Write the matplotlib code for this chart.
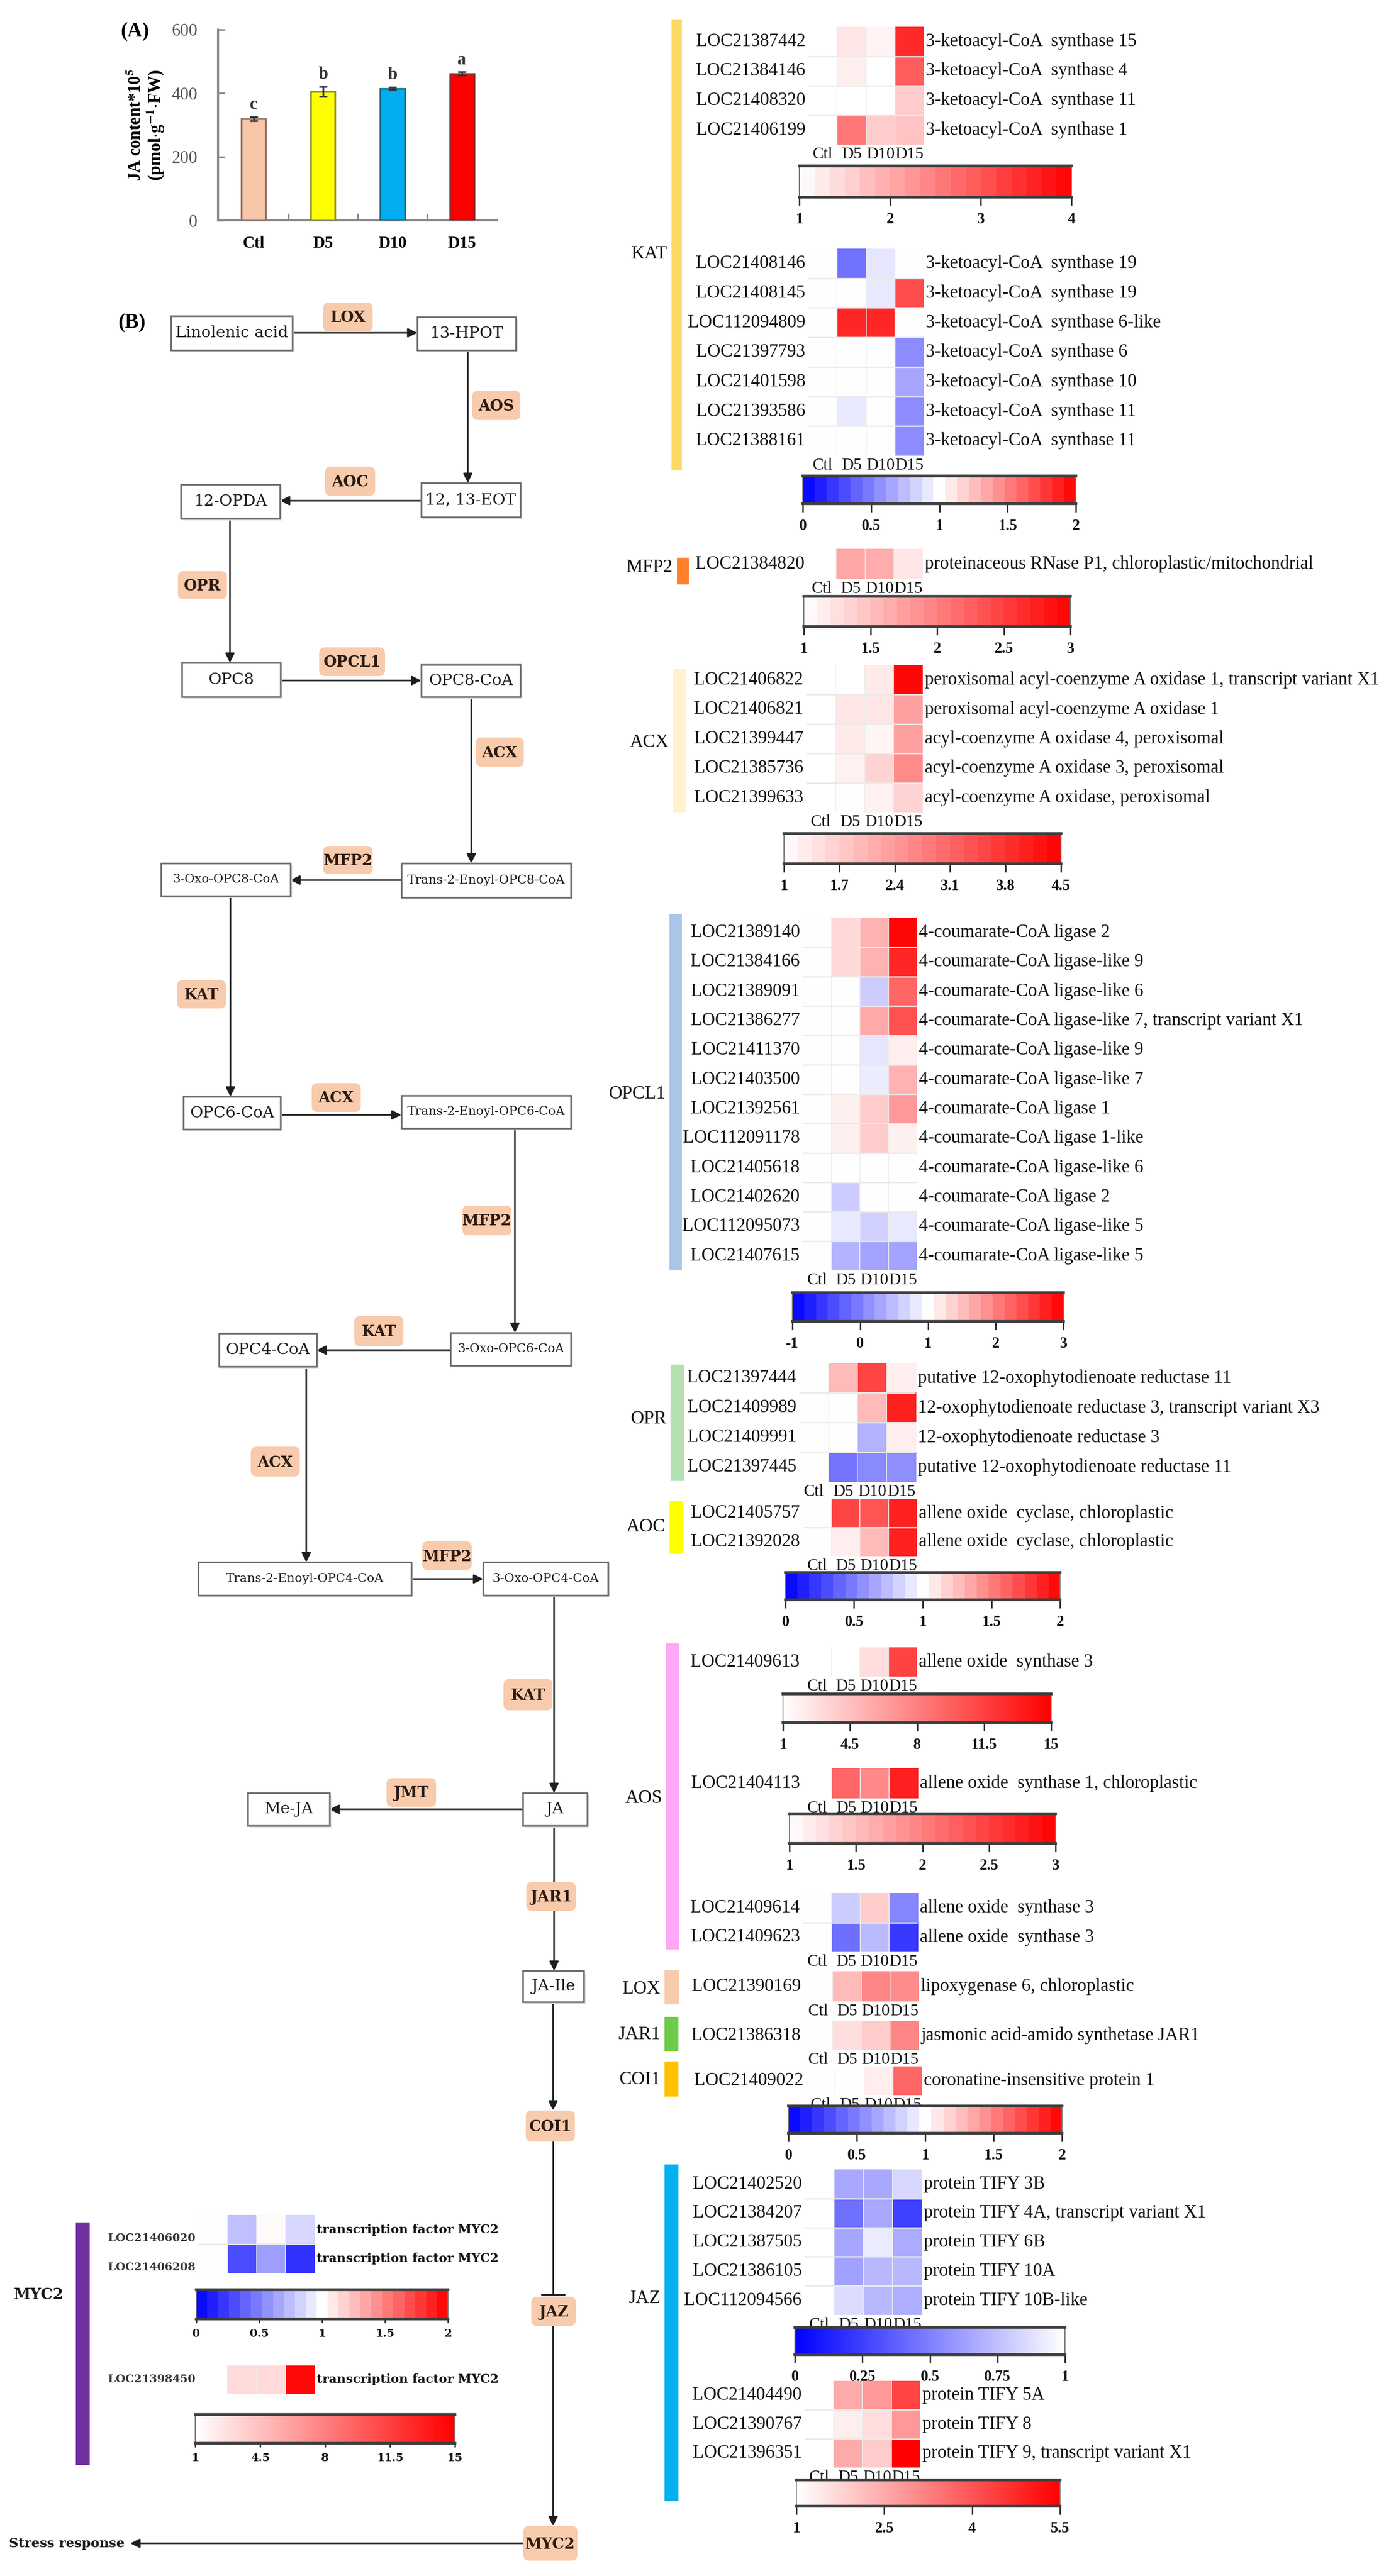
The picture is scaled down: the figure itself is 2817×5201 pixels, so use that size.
import numpy as np
import matplotlib
matplotlib.use("Agg")
import matplotlib.pyplot as plt
from matplotlib.colors import LinearSegmentedColormap, Normalize
from matplotlib.patches import Rectangle, FancyBboxPatch

plt.rcParams['mathtext.fontset'] = 'stix'

# ======================= DATA =======================
bar_groups = ["Ctl", "D5", "D10", "D15"]
ja_content = [320, 405, 415, 462]
ja_err = [6, 16, 4, 5]
ja_letters = ["c", "b", "b", "a"]
bar_colors = ["#F8C6A8", "#FFFF00", "#00AEEF", "#FF0000"]
bar_edges = ["#8A6A5A", "#8A8A30", "#1A6A8A", "#8A2A2A"]

columns = ["Ctl", "D5", "D10", "D15"]

kat1_ids = ["LOC21387442", "LOC21384146", "LOC21408320", "LOC21406199"]
kat1_desc = ["3-ketoacyl-CoA  synthase 15", "3-ketoacyl-CoA  synthase 4",
             "3-ketoacyl-CoA  synthase 11", "3-ketoacyl-CoA  synthase 1"]
kat1_vals = [[1, 1.3, 1.15, 3.5], [1, 1.2, 1.0, 2.9], [1, 1.0, 1.0, 1.6], [1, 2.6, 1.6, 1.7]]

kat2_ids = ["LOC21408146", "LOC21408145", "LOC112094809", "LOC21397793",
            "LOC21401598", "LOC21393586", "LOC21388161"]
kat2_desc = ["3-ketoacyl-CoA  synthase 19", "3-ketoacyl-CoA  synthase 19",
             "3-ketoacyl-CoA  synthase 6-like", "3-ketoacyl-CoA  synthase 6",
             "3-ketoacyl-CoA  synthase 10", "3-ketoacyl-CoA  synthase 11",
             "3-ketoacyl-CoA  synthase 11"]
kat2_vals = [[1, 0.45, 0.9, 1.0], [1, 1.0, 0.92, 1.7], [1, 1.85, 1.85, 1.0],
             [1, 1.0, 1.0, 0.55], [1, 1.0, 1.0, 0.65], [1, 0.92, 1.0, 0.55],
             [1, 1.0, 1.0, 0.55]]

mfp2_ids = ["LOC21384820"]
mfp2_desc = ["proteinaceous RNase P1, chloroplastic/mitochondrial"]
mfp2_vals = [[1, 1.7, 1.65, 1.2]]

acx_ids = ["LOC21406822", "LOC21406821", "LOC21399447", "LOC21385736", "LOC21399633"]
acx_desc = ["peroxisomal acyl-coenzyme A oxidase 1, transcript variant X1",
            "peroxisomal acyl-coenzyme A oxidase 1",
            "acyl-coenzyme A oxidase 4, peroxisomal",
            "acyl-coenzyme A oxidase 3, peroxisomal",
            "acyl-coenzyme A oxidase, peroxisomal"]
acx_vals = [[1, 1.0, 1.3, 4.4], [1, 1.35, 1.35, 2.3], [1, 1.3, 1.15, 2.3],
            [1, 1.2, 1.6, 2.6], [1, 1.05, 1.2, 1.6]]

opcl1_ids = ["LOC21389140", "LOC21384166", "LOC21389091", "LOC21386277", "LOC21411370",
             "LOC21403500", "LOC21392561", "LOC112091178", "LOC21405618", "LOC21402620",
             "LOC112095073", "LOC21407615"]
opcl1_desc = ["4-coumarate-CoA ligase 2", "4-coumarate-CoA ligase-like 9",
              "4-coumarate-CoA ligase-like 6", "4-coumarate-CoA ligase-like 7, transcript variant X1",
              "4-coumarate-CoA ligase-like 9", "4-coumarate-CoA ligase-like 7",
              "4-coumarate-CoA ligase 1", "4-coumarate-CoA ligase 1-like",
              "4-coumarate-CoA ligase-like 6", "4-coumarate-CoA ligase 2",
              "4-coumarate-CoA ligase-like 5", "4-coumarate-CoA ligase-like 5"]
opcl1_vals = [[1, 1.3, 1.6, 2.95], [1, 1.3, 1.6, 2.7], [1, 1.0, 0.6, 2.2], [1, 1.0, 1.67, 2.35],
              [1, 1.0, 0.8, 1.13], [1, 1.0, 0.85, 1.6], [1, 1.12, 1.4, 1.8], [1, 1.12, 1.4, 1.12],
              [1, 1.0, 1.0, 1.0], [1, 0.6, 1.0, 1.0], [1, 0.82, 0.63, 0.82], [1, 0.42, 0.28, 0.28]]

opr_ids = ["LOC21397444", "LOC21409989", "LOC21409991", "LOC21397445"]
opr_desc = ["putative 12-oxophytodienoate reductase 11",
            "12-oxophytodienoate reductase 3, transcript variant X3",
            "12-oxophytodienoate reductase 3",
            "putative 12-oxophytodienoate reductase 11"]
opr_vals = [[1, 1.27, 1.73, 1.07], [1, 1.0, 1.27, 1.87], [1, 1.0, 0.7, 1.07], [1, 0.46, 0.54, 0.56]]

aoc_ids = ["LOC21405757", "LOC21392028"]
aoc_desc = ["allene oxide  cyclase, chloroplastic", "allene oxide  cyclase, chloroplastic"]
aoc_vals = [[1, 1.73, 1.67, 1.87], [1, 1.07, 1.27, 1.87]]

aos1_ids = ["LOC21409613"]
aos1_desc = ["allene oxide  synthase 3"]
aos1_vals = [[1, 1.0, 2.9, 11.3]]

aos2_ids = ["LOC21404113"]
aos2_desc = ["allene oxide  synthase 1, chloroplastic"]
aos2_vals = [[1, 2.2, 1.93, 2.73]]

aos3_ids = ["LOC21409614", "LOC21409623"]
aos3_desc = ["allene oxide  synthase 3", "allene oxide  synthase 3"]
aos3_vals = [[1, 0.8, 1.2, 0.53], [1, 0.43, 0.73, 0.22]]

lox_ids = ["LOC21390169"]
lox_desc = ["lipoxygenase 6, chloroplastic"]
lox_vals = [[1, 1.27, 1.47, 1.45]]

jar1_ids = ["LOC21386318"]
jar1_desc = ["jasmonic acid-amido synthetase JAR1"]
jar1_vals = [[1, 1.13, 1.2, 1.47]]

coi1_ids = ["LOC21409022"]
coi1_desc = ["coronatine-insensitive protein 1"]
coi1_vals = [[1, 1.0, 1.07, 1.6]]

jaz1_ids = ["LOC21402520", "LOC21384207", "LOC21387505", "LOC21386105", "LOC112094566"]
jaz1_desc = ["protein TIFY 3B", "protein TIFY 4A, transcript variant X1", "protein TIFY 6B",
             "protein TIFY 10A", "protein TIFY 10B-like"]
jaz1_vals = [[1, 0.66, 0.66, 0.84], [1, 0.44, 0.66, 0.25], [1, 0.65, 0.92, 0.67],
             [1, 0.63, 0.72, 0.72], [1, 0.86, 0.72, 0.68]]

jaz2_ids = ["LOC21404490", "LOC21390767", "LOC21396351"]
jaz2_desc = ["protein TIFY 5A", "protein TIFY 8", "protein TIFY 9, transcript variant X1"]
jaz2_vals = [[1, 2.5, 2.8, 4.3], [1, 1.3, 1.6, 2.8], [1, 2.5, 1.9, 5.5]]

myc1_ids = ["LOC21406020", "LOC21406208"]
myc1_desc = ["transcription factor MYC2", "transcription factor MYC2"]
myc1_vals = [[1, 0.75, 1.02, 0.84], [1, 0.3, 0.62, 0.2]]

myc2_ids = ["LOC21398450"]
myc2_desc = ["transcription factor MYC2"]
myc2_vals = [[1, 3.0, 3.0, 14.5]]

# ======================= FIGURE =======================
W, H = 2817, 5201
fig = plt.figure(figsize=(W / 100, H / 100), dpi=100)
fig.patch.set_facecolor('white')
bg = fig.add_axes([0, 0, 1, 1])
bg.set_xlim(0, W)
bg.set_ylim(H, 0)
bg.axis('off')

SERIF = ['Liberation Serif', 'DejaVu Serif']
PW = ['DejaVu Serif']

red_cmap = LinearSegmentedColormap.from_list('wr', ['#FFFFFF', '#FF0000'])
div_cmap = LinearSegmentedColormap.from_list('bwr2', ['#0000FF', '#FFFFFF', '#FF0000'])
blue_cmap = LinearSegmentedColormap.from_list('bw', ['#0000FF', '#FFFFFF'])


def px_axes(x0, y0, x1, y1):
    return fig.add_axes([x0 / W, 1 - y1 / H, (x1 - x0) / W, (y1 - y0) / H])


def draw_heatmap(box, vals, ids, descs, cmap, vmin, vmax, show_cols=True,
                 font=SERIF, id_size=26.5, desc_size=26.5, weight='normal', id_shift=0.0,
                 id_color='#111111'):
    x0, y0, x1, y1 = box
    n = len(ids)
    ax = px_axes(x0, y0, x1, y1)
    ax.imshow(np.array(vals, float), cmap=cmap, norm=Normalize(vmin, vmax), aspect='auto',
              interpolation='nearest', extent=(-0.5, 3.5, n - 0.5, -0.5))
    ax.set_xlim(-0.5, 3.5)
    ax.set_ylim(n - 0.5, -0.5)
    for k in range(1, 4):
        ax.axvline(k - 0.5, color='#EEEEEE', lw=1.2)
    for k in range(1, n):
        ax.axhline(k - 0.5, color='#EAEAEA', lw=2.0)
    ax.set_xticks([])
    ax.set_yticks([])
    for s in ax.spines.values():
        s.set_visible(False)
    cw = (x1 - x0) / 4.0
    rh = (y1 - y0) / n
    for i, (lid, d) in enumerate(zip(ids, descs)):
        ax.text(-0.5 - 6 / cw, i + id_shift, lid, ha='right', va='center', fontsize=id_size,
                family=font, weight=weight, color=id_color, clip_on=False)
        ax.text(3.5 + 4 / cw, i, d, ha='left', va='center', fontsize=desc_size,
                family=font, weight=weight, color='#111111', clip_on=False)
    if show_cols:
        for j, c in enumerate(columns):
            ax.text(j, n - 0.5 + 20 / rh, c, ha='center', va='center', fontsize=24,
                    family=SERIF, color='#111111', clip_on=False)
    return ax


def draw_cbar(box, cmap, vmin, vmax, ticks, labels, steps=None, font=SERIF, size=22,
              weight='bold', tlen=12, pad=10):
    ax = px_axes(*box)
    if steps:
        g = vmin + (np.arange(steps) + 0.5) * (vmax - vmin) / steps
    else:
        g = np.linspace(vmin, vmax, 600)
    ax.imshow(g[None, :], cmap=cmap, norm=Normalize(vmin, vmax), aspect='auto',
              extent=(vmin, vmax, 0, 1), interpolation='nearest')
    ax.set_xlim(vmin, vmax)
    ax.set_ylim(0, 1)
    ax.set_yticks([])
    ax.set_xticks(ticks)
    ax.set_xticklabels(labels, fontfamily=font, fontsize=size, fontweight=weight, color='#111111')
    ax.tick_params(axis='x', direction='out', length=tlen, width=2.2, color='#333333', pad=pad)
    for side in ['top', 'bottom']:
        ax.spines[side].set_linewidth(4)
        ax.spines[side].set_color('#3D3D3D')
    for side in ['left', 'right']:
        ax.spines[side].set_linewidth(1.5)
        ax.spines[side].set_color('#777777')
    return ax


# ---------------- (A) bar chart ----------------
axb = px_axes(440, 60, 1003, 445)
xb = np.arange(len(bar_groups))
axb.bar(xb, ja_content, width=0.35, color=bar_colors, edgecolor=bar_edges, linewidth=2.5,
        yerr=ja_err, capsize=6, error_kw=dict(ecolor='#333333', elinewidth=2.5, capthick=2.5),
        zorder=3)
axb.set_xlim(-0.514, 3.507)
axb.set_ylim(0, 600)
axb.set_yticks([0, 200, 400, 600])
axb.set_yticklabels(['0', '200', '400', '600'], fontsize=25, color='#555555', family=SERIF)
axb.tick_params(axis='y', direction='in', length=10, width=2.5, color='#888888', pad=30)
axb.set_xticks(xb)
axb.set_xticklabels(bar_groups, fontsize=24, fontweight='bold', family=SERIF)
axb.tick_params(axis='x', which='major', length=0, pad=22)
axb.set_xticks([0.5, 1.5, 2.5], minor=True)
axb.tick_params(axis='x', which='minor', direction='in', length=10, width=2.5, color='#888888')
for s in ['top', 'right']:
    axb.spines[s].set_visible(False)
for s in ['left', 'bottom']:
    axb.spines[s].set_color('#888888')
    axb.spines[s].set_linewidth(3)
for i, (v, e, l) in enumerate(zip(ja_content, ja_err, ja_letters)):
    axb.text(i, v + e + 12, l, ha='center', va='bottom', fontsize=25, fontweight='bold',
             family=SERIF, color='#333333')
axb.set_ylabel("JA content*10$^{\\mathbf{5}}$\n(pmol$\\cdot$g$^{\\mathbf{-1}}$$\\cdot$FW)",
               fontsize=25, fontweight='bold', family=SERIF, labelpad=8, linespacing=1.05)

bg.text(272, 64, "(A)", fontsize=30, fontweight='bold', family=SERIF, ha='center', va='center')
bg.text(266, 652, "(B)", fontsize=30, fontweight='bold', family=SERIF, ha='center', va='center')

# ---------------- pathway diagram ----------------
def node(x0, y0, x1, y1, text, size=23):
    bg.add_patch(Rectangle((x0 + 4, y0 + 4), x1 - x0, y1 - y0, facecolor='#E6E6E6',
                           edgecolor='none', zorder=2.5))
    bg.add_patch(Rectangle((x0, y0), x1 - x0, y1 - y0, facecolor='white', edgecolor='#6E6E6E',
                           lw=2.5, zorder=3))
    bg.text((x0 + x1) / 2, (y0 + y1) / 2, text, ha='center', va='center', fontsize=size,
            family=PW, color='#1A1A1A', zorder=4)


def enzyme(x0, y0, x1, y1, text, size=22):
    bg.add_patch(FancyBboxPatch((x0, y0), x1 - x0, y1 - y0,
                                boxstyle='round,pad=0,rounding_size=12',
                                facecolor='#F8CBAD', edgecolor='none', zorder=5))
    bg.text((x0 + x1) / 2, (y0 + y1) / 2 + 2, text, ha='center', va='center', fontsize=size,
            family=PW, fontweight='bold', color='#2B1B12', zorder=6)


def arrow(x0, y0, x1, y1):
    bg.annotate('', xy=(x1, y1), xytext=(x0, y0),
                arrowprops=dict(arrowstyle='-|>', color='#1E1E1E', lw=2.3, mutation_scale=28,
                                shrinkA=0, shrinkB=0), zorder=2)


node(345, 638, 590, 707, "Linolenic acid")
node(842, 640, 1041, 707, "13-HPOT")
node(850, 975, 1050, 1044, "12, 13-EOT")
node(365, 978, 565, 1047, "12-OPDA")
node(367, 1338, 566, 1407, "OPC8")
node(850, 1342, 1050, 1407, "OPC8-CoA")
node(325, 1743, 586, 1809, "3-Oxo-OPC8-CoA", 18)
node(810, 1743, 1152, 1812, "Trans-2-Enoyl-OPC8-CoA", 18)
node(370, 2214, 566, 2280, "OPC6-CoA")
node(810, 2212, 1152, 2278, "Trans-2-Enoyl-OPC6-CoA", 18)
node(909, 2691, 1152, 2757, "3-Oxo-OPC6-CoA", 18)
node(442, 2692, 639, 2759, "OPC4-CoA")
node(400, 3154, 830, 3221, "Trans-2-Enoyl-OPC4-CoA", 18)
node(975, 3154, 1227, 3221, "3-Oxo-OPC4-CoA", 18)
node(500, 3620, 665, 3686, "Me-JA")
node(1055, 3620, 1185, 3686, "JA")
node(1055, 3979, 1178, 4042, "JA-Ile")

arrow(590, 672, 842, 672)
arrow(944, 707, 944, 975)
arrow(850, 1011, 565, 1011)
arrow(464, 1047, 464, 1338)
arrow(566, 1374, 850, 1374)
arrow(951, 1407, 951, 1743)
arrow(810, 1777, 586, 1777)
arrow(465, 1809, 465, 2214)
arrow(566, 2251, 810, 2251)
arrow(1039, 2278, 1039, 2691)
arrow(909, 2726, 639, 2726)
arrow(618, 2759, 618, 3154)
arrow(830, 3188, 975, 3188)
arrow(1118, 3221, 1118, 3620)
arrow(1055, 3653, 665, 3653)
arrow(1118, 3686, 1118, 3979)
arrow(1116, 4042, 1116, 4261)
bg.plot([1116, 1116], [4324, 4633], color='#1E1E1E', lw=2.3, zorder=2)
bg.plot([1094, 1138], [4633, 4633], color='#1E1E1E', lw=3.5, zorder=2)
arrow(1116, 4696, 1116, 5100)
arrow(1056, 5135, 263, 5135)

enzyme(652, 611, 752, 669, "LOX")
enzyme(953, 789, 1050, 848, "AOS")
enzyme(656, 942, 757, 1001, "AOC")
enzyme(359, 1153, 458, 1210, "OPR")
enzyme(644, 1307, 777, 1365, "OPCL1")
enzyme(960, 1489, 1057, 1548, "ACX")
enzyme(652, 1708, 752, 1765, "MFP2")
enzyme(357, 1979, 456, 2036, "KAT")
enzyme(629, 2187, 728, 2245, "ACX")
enzyme(933, 2434, 1032, 2494, "MFP2")
enzyme(715, 2657, 814, 2718, "KAT")
enzyme(506, 2921, 605, 2981, "ACX")
enzyme(852, 3112, 952, 3170, "MFP2")
enzyme(1016, 3390, 1115, 3453, "KAT")
enzyme(780, 3590, 880, 3648, "JMT")
enzyme(1062, 3800, 1162, 3858, "JAR1")
enzyme(1061, 4261, 1160, 4324, "COI1")
enzyme(1072, 4637, 1162, 4696, "JAZ")
enzyme(1056, 5100, 1165, 5170, "MYC2")

bg.text(18, 5135, "Stress response", ha='left', va='center', fontsize=19, family=PW,
        fontweight='bold', color='#1A1A1A')

# ---------------- group bars and labels ----------------
groups = [
    ("KAT", 1355, 40, 1376, 950, '#FFD966', 513),
    ("MFP2", 1366, 1126, 1390, 1180, '#FF7F2A', 1146),
    ("ACX", 1358, 1350, 1384, 1640, '#FFF2CC', 1499),
    ("OPCL1", 1351, 1846, 1376, 2565, '#A9C6E8', 2209),
    ("OPR", 1353, 2755, 1380, 2990, '#B4DFB0', 2865),
    ("AOC", 1351, 3030, 1379, 3137, '#FFFF00', 3083),
    ("AOS", 1344, 3318, 1371, 3936, '#FFA8F5', 3631),
    ("LOX", 1341, 3978, 1371, 4047, '#F8CBAD', 4016),
    ("JAR1", 1341, 4072, 1369, 4141, '#6CCB48', 4108),
    ("COI1", 1341, 4162, 1369, 4233, '#FFC000', 4199),
    ("JAZ", 1341, 4370, 1369, 5050, '#00B0F0', 4641),
]
for name, gx0, gy0, gx1, gy1, col, ly in groups:
    bg.add_patch(Rectangle((gx0, gy0), gx1 - gx0, gy1 - gy0, facecolor=col, edgecolor='none'))
    bg.text(gx0 - 8, ly, name, ha='right', va='center', fontsize=27, family=SERIF, color='#111111')

bg.add_patch(Rectangle((153, 4487), 28, 490, facecolor='#7030A0', edgecolor='none'))
bg.text(78, 4633, "MYC2", ha='center', va='center', fontsize=22, family=PW, fontweight='bold',
        color='#1A1A1A')

# ---------------- heatmaps ----------------
draw_heatmap((1631, 54, 1864, 292), kat1_vals, kat1_ids, kat1_desc, red_cmap, 1, 4)
draw_cbar((1613, 335, 2162, 398), red_cmap, 1, 4, [1, 2, 3, 4], ['1', '2', '3', '4'], steps=18)

draw_heatmap((1631, 502, 1864, 920), kat2_vals, kat2_ids, kat2_desc, div_cmap, 0, 2)
draw_cbar((1620, 961, 2171, 1017), div_cmap, 0, 2, [0, 0.5, 1, 1.5, 2],
          ['0', '0.5', '1', '1.5', '2'], steps=23)

draw_heatmap((1629, 1108, 1862, 1169), mfp2_vals, mfp2_ids, mfp2_desc, red_cmap, 1, 3)
draw_cbar((1622, 1204, 2160, 1265), red_cmap, 1, 3, [1, 1.5, 2, 2.5, 3],
          ['1', '1.5', '2', '2.5', '3'], steps=20)

draw_heatmap((1627, 1343, 1862, 1640), acx_vals, acx_ids, acx_desc, red_cmap, 1, 4.5)
draw_cbar((1582, 1683, 2141, 1744), red_cmap, 1, 4.5, [1, 1.7, 2.4, 3.1, 3.8, 4.5],
          ['1', '1.7', '2.4', '3.1', '3.8', '4.5'], steps=20)

draw_heatmap((1620, 1853, 1850, 2565), opcl1_vals, opcl1_ids, opcl1_desc, div_cmap, -1, 3)
draw_cbar((1599, 2610, 2146, 2668), div_cmap, -1, 3, [-1, 0, 1, 2, 3],
          ['-1', '0', '1', '2', '3'], steps=23)

draw_heatmap((1613, 2752, 1848, 2992), opr_vals, opr_ids, opr_desc, div_cmap, 0, 2)
draw_heatmap((1620, 3026, 1850, 3142), aoc_vals, aoc_ids, aoc_desc, div_cmap, 0, 2)
draw_cbar((1585, 3175, 2139, 3230), div_cmap, 0, 2, [0, 0.5, 1, 1.5, 2],
          ['0', '0.5', '1', '1.5', '2'], steps=23)

draw_heatmap((1620, 3326, 1850, 3385), aos1_vals, aos1_ids, aos1_desc, red_cmap, 1, 15)
draw_cbar((1580, 3420, 2121, 3478), red_cmap, 1, 15, [1, 4.5, 8, 11.5, 15],
          ['1', '4.5', '8', '11.5', '15'])

draw_heatmap((1620, 3570, 1852, 3631), aos2_vals, aos2_ids, aos2_desc, red_cmap, 1, 3)
draw_cbar((1593, 3662, 2130, 3722), red_cmap, 1, 3, [1, 1.5, 2, 2.5, 3],
          ['1', '1.5', '2', '2.5', '3'], steps=20)

draw_heatmap((1620, 3822, 1852, 3941), aos3_vals, aos3_ids, aos3_desc, div_cmap, 0, 2)
draw_heatmap((1622, 3980, 1854, 4041), lox_vals, lox_ids, lox_desc, div_cmap, 0, 2)
draw_heatmap((1622, 4080, 1854, 4139), jar1_vals, jar1_ids, jar1_desc, div_cmap, 0, 2)
draw_heatmap((1627, 4172, 1860, 4230), coi1_vals, coi1_ids, coi1_desc, div_cmap, 0, 2)
draw_cbar((1591, 4252, 2143, 4307), div_cmap, 0, 2, [0, 0.5, 1, 1.5, 2],
          ['0', '0.5', '1', '1.5', '2'], steps=23)

draw_heatmap((1624, 4380, 1860, 4674), jaz1_vals, jaz1_ids, jaz1_desc, blue_cmap, 0, 1)
draw_cbar((1604, 4699, 2149, 4754), blue_cmap, 0, 1, [0, 0.25, 0.5, 0.75, 1],
          ['0', '0.25', '0.5', '0.75', '1'])

draw_heatmap((1624, 4807, 1857, 4982), jaz2_vals, jaz2_ids, jaz2_desc, red_cmap, 1, 5.5)
draw_cbar((1607, 5007, 2139, 5060), red_cmap, 1, 5.5, [1, 2.5, 4, 5.5],
          ['1', '2.5', '4', '5.5'])

draw_heatmap((400, 4472, 635, 4590), myc1_vals, myc1_ids, myc1_desc, div_cmap, 0, 2,
             show_cols=False, font=PW, id_size=16, desc_size=18, weight='bold', id_shift=0.3,
             id_color='#333333')
draw_cbar((396, 4623, 904, 4682), div_cmap, 0, 2, [0, 0.5, 1, 1.5, 2],
          ['0', '0.5', '1', '1.5', '2'], steps=23, font=PW, size=16, tlen=6, pad=8)

draw_heatmap((400, 4776, 635, 4833), myc2_vals, myc2_ids, myc2_desc, red_cmap, 1, 15,
             show_cols=False, font=PW, id_size=16, desc_size=18, weight='bold',
             id_color='#333333')
draw_cbar((394, 4875, 918, 4933), red_cmap, 1, 15, [1, 4.5, 8, 11.5, 15],
          ['1', '4.5', '8', '11.5', '15'], font=PW, size=16, tlen=6, pad=8)

fig.savefig("out.png", dpi=100, facecolor='white')
